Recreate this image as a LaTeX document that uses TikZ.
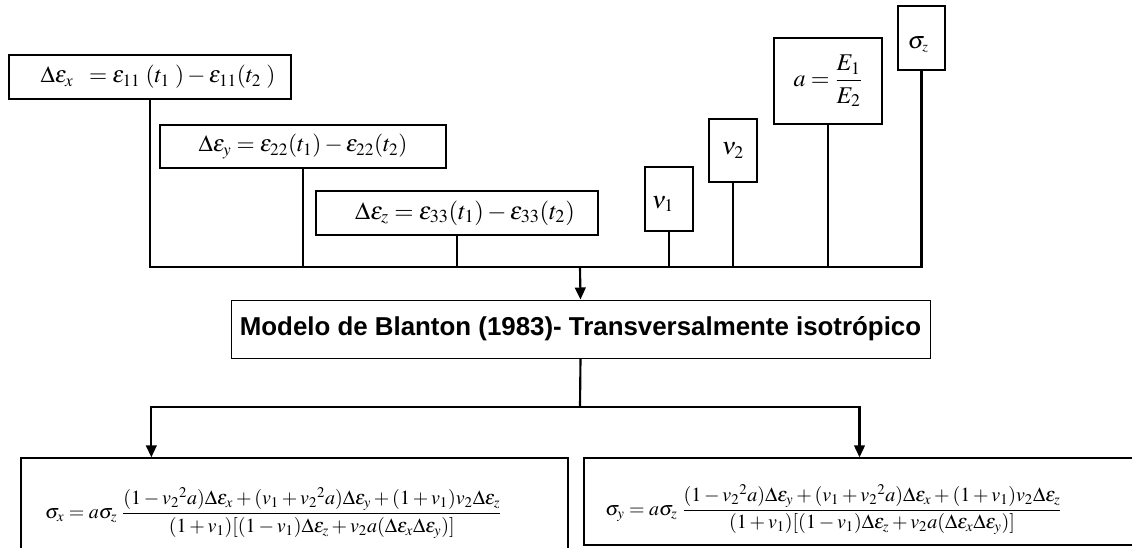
\documentclass[tikz,border=0pt]{standalone}
\usepackage{amsmath}
\usepackage{mathptmx}
\usepackage{fontspec}
\newfontfamily\labelfont{Liberation Sans}
\usetikzlibrary{arrows.meta,calc}

% extra room above a content, pushing it down inside its box
\newcommand{\pushdown}[2]{\raisebox{0pt}[\dimexpr\height+#1\relax][\depth]{#2}}

\tikzset{
  boxwh/.style 2 args={draw, line width=1pt, inner sep=0pt,
    minimum width=#1*0.75pt, minimum height=#2*0.75pt},
  conn/.style={line width=1.6pt},
  arr/.style={conn, -{Triangle[width=8pt,length=9pt]}},
  eqfont/.style={font=\fontsize{#1}{20}\selectfont},
  symfont/.style={font=\fontsize{18}{22}\selectfont},
  fracbox/.style={font=\fontsize{15}{18}\selectfont,
    text width=#1*0.75pt, align=left},
}

\begin{document}
\begin{tikzpicture}[x=0.75pt, y=-0.75pt]
  \useasboundingbox (0,0) rectangle (1132,547);
  \clip (0,0) rectangle (1132,547);

  % strain increments
  \node[boxwh={282}{44}, eqfont=17.5] (ex) at (150,77)
    {$\Delta\varepsilon_x\;\; = \varepsilon_{11}\,\,(t_1\;) - \varepsilon_{11}(t_2\;)$\hspace*{-12pt}};
  \node[boxwh={286}{43}, eqfont=17.5] (ey) at (303,146.5)
    {$\Delta\varepsilon_y = \varepsilon_{22}(t_1) - \varepsilon_{22}(t_2)$};
  \node[boxwh={282}{44}, eqfont=18.5] (ez) at (457,213)
    {$\Delta\varepsilon_z = \varepsilon_{33}(t_1) - \varepsilon_{33}(t_2)$\hspace*{-12pt}};

  % material parameters
  \node[boxwh={48}{64}, symfont] (nu1) at (669,199)
    {\hspace*{-9pt}\pushdown{7.5pt}{$\nu_1$}};
  \node[boxwh={48}{63}, symfont] (nu2) at (733,150.5) {$\nu_2$};
  \node[boxwh={108}{86}, symfont] (ratio) at (828,81) {$a = \dfrac{E_1}{E_2}$};
  \node[boxwh={47}{64}, symfont] (sz) at (921.5,38)
    {\hspace*{-5pt}\pushdown{10pt}{$\sigma_{\scriptscriptstyle z}$}};

  % model
  \node[draw, line width=0.75pt, inner sep=0pt,
        minimum width=699*0.75pt, minimum height=58*0.75pt,
        font=\labelfont\bfseries\fontsize{19.4}{22}\selectfont] (model) at (580.5,329)
    {Modelo de Blanton (1983)- Transversalmente isotrópico};

  % resulting stresses
  \node[boxwh={547}{110}, fracbox=547] (sx) at (294.5,513)
    {\hspace*{18pt}$\sigma_x = a\sigma_z\;\dfrac{(1-v_2{}^2a)\Delta\varepsilon_x + (v_1+v_2{}^2a)\Delta\varepsilon_y + (1+v_1)v_2\Delta\varepsilon_z}{(1+v_1)[(1-v_1)\Delta\varepsilon_z + v_2a(\Delta\varepsilon_x\Delta\varepsilon_y)]}$};
  \node[boxwh={551}{87}, fracbox=551] (sy) at (859.5,501.5)
    {\hspace*{16pt}\pushdown{12pt}{$\sigma_y = a\sigma_z\;\dfrac{(1-v_2{}^2a)\Delta\varepsilon_y + (v_1+v_2{}^2a)\Delta\varepsilon_x + (1+v_1)v_2\Delta\varepsilon_z}{(1+v_1)[(1-v_1)\Delta\varepsilon_z + v_2a(\Delta\varepsilon_x\Delta\varepsilon_y)]}$}};

  % collecting bus
  \coordinate (bus) at (580,267);
  \draw[conn] (ex.south) |- (bus) -| (sz.south);
  \foreach \n in {ey,ez,nu1,nu2,ratio}
    \draw[conn] (\n.south) -- (\n.south |- bus);
  \draw[arr] (bus) -- (model.north);

  % distribution to the stress boxes
  \coordinate (split) at (580,407);
  \coordinate (sxin) at ($(sx.north west)+(131,0)$);
  \draw[conn] (model.south) -- (split);
  \draw[arr] (split) -| (sxin);
  \draw[arr] (split) -| (sy.north);
\end{tikzpicture}
\end{document}
